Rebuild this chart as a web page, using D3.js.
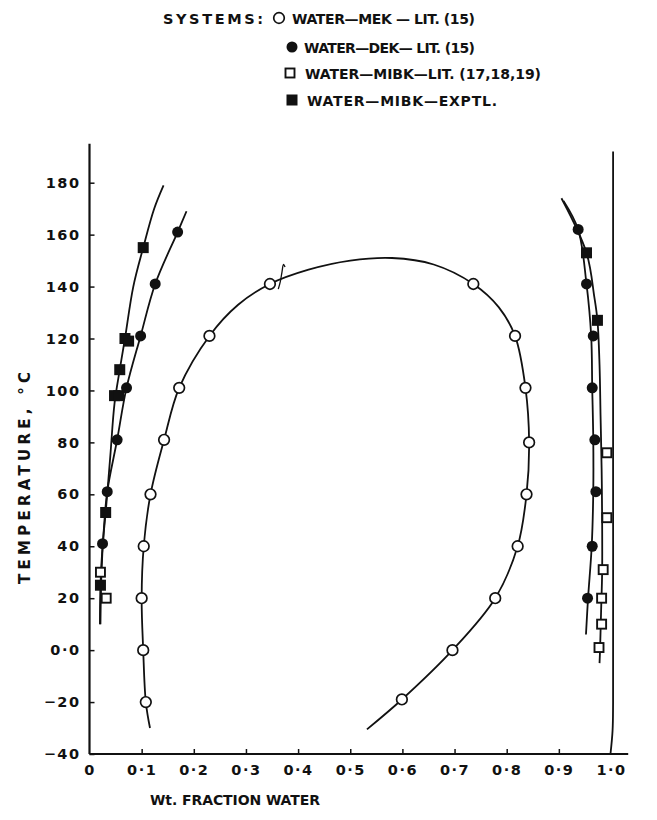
<!DOCTYPE html>
<html>
<head>
<meta charset="utf-8">
<script src="https://cdn.jsdelivr.net/npm/d3@7"></script>
<style>
  body { margin: 0; background: #fff; }
  #chart { width: 657px; height: 820px; }
  text { font-family: "DejaVu Sans", "Liberation Sans", sans-serif; font-weight: bold; fill: #111; }
</style>
</head>
<body>
<div id="chart"></div>
<script>
// ---- data: [wt fraction water, temperature C] ----

// water - MEK (open circles)
const mekPoints = [[0.108,-20],[0.103,0],[0.100,20],[0.104,40],[0.117,60],[0.143,81],[0.172,101],[0.230,121],[0.346,141],
                   [0.736,141],[0.816,121],[0.836,101],[0.843,80],[0.838,60],[0.821,40],[0.778,20],[0.696,0],[0.599,-19]];
const mekCurve = [[0.116,-30],[0.108,-20],[0.103,0],[0.100,20],[0.104,40],[0.117,60],[0.143,81],[0.172,101],[0.230,121],
                  [0.285,133],[0.346,141],[0.42,146.5],[0.50,150],[0.58,151],[0.66,148.5],[0.736,141],[0.785,132],
                  [0.816,121],[0.836,101],[0.843,80],[0.838,60],[0.821,40],[0.778,20],[0.696,0],[0.599,-19],[0.532,-30.5]];
const mekMark = [[0.362,139],[0.366,142],[0.369,145.5],[0.372,148.5],[0.375,147.5]];

// water - DEK (filled circles)
const dekPoints = [[0.169,161],[0.126,141],[0.098,121],[0.071,101],[0.053,81],[0.034,61],[0.025,41],
                   [0.937,162],[0.953,141],[0.966,121],[0.964,101],[0.969,81],[0.971,61],[0.964,40],[0.955,20]];
const dekCurveLeft = [[0.021,10],[0.023,30],[0.027,45],[0.034,61],[0.053,81],[0.071,101],[0.098,121],[0.126,141],[0.169,161],[0.186,169]];
const dekCurveRight = [[0.909,173],[0.937,162],[0.953,141],[0.962,121],[0.964,101],[0.966,81],[0.966,61],[0.963,40],[0.956,20],[0.952,6]];

// water - MIBK literature (open squares)
const mibkLitPoints = [[0.021,30],[0.032,20],[0.992,76],[0.992,51],[0.985,31],[0.982,20],[0.982,10],[0.977,1]];

// water - MIBK experimental (filled squares)
const mibkExpPoints = [[0.103,155],[0.068,120],[0.075,119],[0.058,108],[0.048,98],[0.056,98],[0.031,53],[0.021,25],
                       [0.953,153],[0.974,127]];
const mibkCurveLeft = [[0.020,10],[0.021,25],[0.025,40],[0.031,53],[0.040,75],[0.048,95],[0.058,108],[0.068,120],
                       [0.084,140],[0.103,155],[0.124,170],[0.142,179]];
const mibkCurveRight = [[0.905,174],[0.953,153],[0.968,136],[0.974,127],[0.978,110],[0.980,90],[0.982,70],
                        [0.983,50],[0.983,30],[0.981,15],[0.979,0],[0.978,-5]];

// pure water side boundary
const waterLine = [[1.004,192],[1.004,60],[1.004,-20],[1.003,-31],[0.999,-40]];

const xTicks = [0,0.1,0.2,0.3,0.4,0.5,0.6,0.7,0.8,0.9,1.0];
const xTickLabels = ["0","0·1","0·2","0·3","0·4","0·5","0·6","0·7","0·8","0·9","1·0"];
const yTicks = [-40,-20,0,20,40,60,80,100,120,140,160,180];
const yTickLabels = ["−40","−20","0·0","20","40","60","80","100","120","140","160","180"];

const legendTitle = "SYSTEMS:";
const legendItems = [
    {label: "WATER—MEK — LIT. (15)", symbol: "openCircle"},
    {label: "WATER—DEK— LIT. (15)", symbol: "filledCircle"},
    {label: "WATER—MIBK—LIT. (17,18,19)", symbol: "openSquare"},
    {label: "WATER—MIBK—EXPTL.", symbol: "filledSquare"}
];

/* * * * * * * * * * * * * *
*        PhaseVis          *
* * * * * * * * * * * * * */

class PhaseVis {

    constructor(parentElement) {
        this.parentElement = parentElement;
        this.initVis();
    }

    initVis() {
        let vis = this;

        vis.width = 657;
        vis.height = 820;

        vis.svg = d3.select("#" + vis.parentElement).append("svg")
            .attr("width", vis.width)
            .attr("height", vis.height);

        vis.x = d3.scaleLinear().domain([0, 1]).range([89.5, 611]);
        vis.y = d3.scaleLinear().domain([-40, 180]).range([754, 182.7]);

        vis.line = d3.line()
            .x(d => vis.x(d[0]))
            .y(d => vis.y(d[1]))
            .curve(d3.curveCatmullRom.alpha(0.5));

        vis.drawAxes();
        vis.drawLegend();
        vis.updateVis();
    }

    drawAxes() {
        let vis = this;

        let xAxis = d3.axisBottom(vis.x)
            .tickValues(xTicks)
            .tickSize(-5)
            .tickPadding(11)
            .tickFormat((d, i) => xTickLabels[i]);

        let yAxis = d3.axisLeft(vis.y)
            .tickValues(yTicks)
            .tickSize(-5)
            .tickPadding(9)
            .tickFormat((d, i) => yTickLabels[i]);

        let gx = vis.svg.append("g")
            .attr("class", "x-axis")
            .attr("transform", `translate(0, ${vis.y(-40)})`)
            .call(xAxis);
        let gy = vis.svg.append("g")
            .attr("class", "y-axis")
            .attr("transform", `translate(${vis.x(0)}, 0)`)
            .call(yAxis);

        [gx, gy].forEach(g => {
            g.select(".domain").remove();
            g.selectAll(".tick line").attr("stroke", "#111").attr("stroke-width", 1.5);
            g.selectAll(".tick text")
                .style("font-size", "14.5px")
                .style("letter-spacing", "1.5px")
                .attr("fill", "#111");
        });
        // the first x tick sits on the y axis, drop its little mark
        gx.selectAll(".tick line").filter(d => d === 0 || d === 1).remove();

        // axis lines run a bit past the last ticks
        vis.svg.append("line")
            .attr("x1", vis.x(0)).attr("x2", vis.x(1.033))
            .attr("y1", vis.y(-40)).attr("y2", vis.y(-40))
            .attr("stroke", "#111").attr("stroke-width", 2.2);
        vis.svg.append("line")
            .attr("x1", vis.x(0)).attr("x2", vis.x(0))
            .attr("y1", vis.y(-40)).attr("y2", vis.y(195))
            .attr("stroke", "#111").attr("stroke-width", 2.2);

        vis.svg.append("text")
            .attr("x", 235)
            .attr("y", 805)
            .attr("text-anchor", "middle")
            .style("font-size", "14px")
            .attr("textLength", 170)
            .attr("lengthAdjust", "spacing")
            .text("Wt. FRACTION WATER");

        vis.svg.append("text")
            .attr("transform", "translate(30, 478) rotate(-90)")
            .attr("text-anchor", "middle")
            .style("font-size", "15px")
            .attr("textLength", 212)
            .attr("lengthAdjust", "spacing")
            .text("TEMPERATURE, °C");
    }

    symbol(g, type, cx, cy) {
        if (type === "openCircle") {
            g.append("circle").attr("cx", cx).attr("cy", cy).attr("r", 5.3)
                .attr("fill", "#fff").attr("stroke", "#111").attr("stroke-width", 1.7);
        } else if (type === "filledCircle") {
            g.append("circle").attr("cx", cx).attr("cy", cy).attr("r", 5.5)
                .attr("fill", "#111");
        } else if (type === "openSquare") {
            g.append("rect").attr("x", cx - 4.5).attr("y", cy - 4.5).attr("width", 9).attr("height", 9)
                .attr("fill", "#fff").attr("stroke", "#111").attr("stroke-width", 1.9);
        } else {
            g.append("rect").attr("x", cx - 5.5).attr("y", cy - 5.5).attr("width", 11).attr("height", 11)
                .attr("fill", "#111");
        }
    }

    drawLegend() {
        let vis = this;
        let lg = vis.svg.append("g").attr("class", "legend");

        lg.append("text")
            .attr("x", 163).attr("y", 24)
            .style("font-size", "14.5px")
            .attr("textLength", 100)
            .attr("lengthAdjust", "spacing")
            .text(legendTitle);

        let rowY = [18, 47, 73, 100];
        let symX = [279, 292, 290, 292];
        let textX = [292, 304, 305, 307];
        let textW = [183, 171, 236, 190];

        legendItems.forEach((item, i) => {
            vis.symbol(lg, item.symbol, symX[i], rowY[i]);
            lg.append("text")
                .attr("x", textX[i]).attr("y", rowY[i] + 6)
                .style("font-size", "14px")
                .attr("textLength", textW[i])
                .attr("lengthAdjust", "spacing")
                .text(item.label);
        });
    }

    updateVis() {
        let vis = this;

        let curves = [mekCurve, dekCurveLeft, dekCurveRight, mibkCurveLeft, mibkCurveRight, waterLine];
        vis.svg.selectAll(".curve")
            .data(curves)
            .enter().append("path")
            .attr("class", "curve")
            .attr("d", vis.line)
            .attr("fill", "none")
            .attr("stroke", "#111")
            .attr("stroke-width", 1.8);

        // little mark on the MEK curve near 140
        vis.svg.append("path")
            .datum(mekMark)
            .attr("d", vis.line)
            .attr("fill", "none")
            .attr("stroke", "#111")
            .attr("stroke-width", 1.3);

        let marks = vis.svg.append("g").attr("class", "marks");
        mibkExpPoints.forEach(d => vis.symbol(marks, "filledSquare", vis.x(d[0]), vis.y(d[1])));
        dekPoints.forEach(d => vis.symbol(marks, "filledCircle", vis.x(d[0]), vis.y(d[1])));
        mibkLitPoints.forEach(d => vis.symbol(marks, "openSquare", vis.x(d[0]), vis.y(d[1])));
        mekPoints.forEach(d => vis.symbol(marks, "openCircle", vis.x(d[0]), vis.y(d[1])));
    }
}

new PhaseVis("chart");
</script>
</body>
</html>
